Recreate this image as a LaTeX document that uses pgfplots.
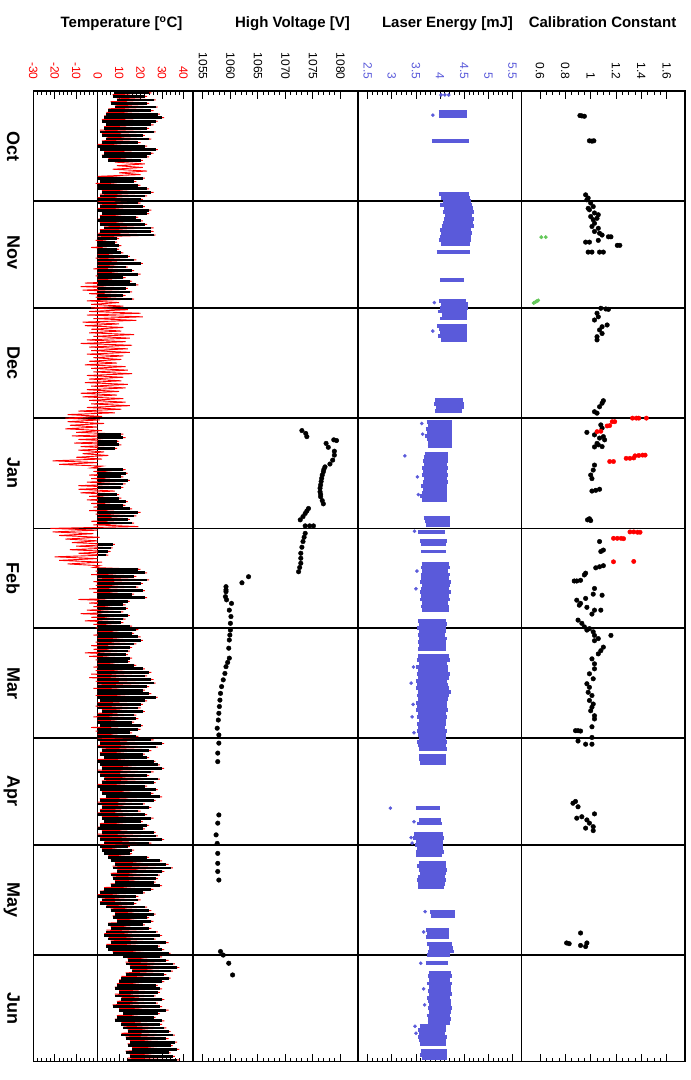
\documentclass[border=0pt]{standalone}
\usepackage{fontspec}
\setmainfont{Liberation Sans}
\usepackage{pgfplots}
\pgfplotsset{compat=1.18}
\definecolor{laserblue}{RGB}{90,90,218}
\definecolor{calgreen}{RGB}{100,200,90}

\pgfplotsset{
  panel/.style={
    scale only axis, height=970.7pt,
    ymin=0, ymax=273, y dir=reverse,
    axis line style={line width=1.5pt},
    tick style={black, line width=0.9pt},
    major tick length=8pt, minor tick length=4pt,
    xticklabel pos=upper,
    xticklabel shift=8pt,
    xticklabel style={rotate=-90, anchor=east, font=\fontsize{12}{12}\selectfont},
    ytick={31,61,92,123,151,182,212,243}, yticklabels={},
    ytick style={draw=none},
    ymajorgrids,
    major grid style={black, line width=1.6pt},
  },
}

\begin{document}
\begin{tikzpicture}
\useasboundingbox (0,0) rectangle (691pt,-1080pt);

\node[anchor=base, font=\fontsize{15}{15}\selectfont\bfseries] at (121.5pt,-27.5pt) {Temperature [\textsuperscript{o}C]};
\node[anchor=base, font=\fontsize{15}{15}\selectfont\bfseries] at (292.5pt,-27.5pt) {High Voltage [V]};
\node[anchor=base, font=\fontsize{15}{15}\selectfont\bfseries] at (447.5pt,-27.5pt) {Laser Energy [mJ]};
\node[anchor=base, font=\fontsize{15}{15}\selectfont\bfseries] at (602.5pt,-27.5pt) {Calibration Constant};

% ---------------- temperature
\begin{axis}[panel, at={(33.3pt,-91pt)}, anchor=north west, width=159.7pt,
  xmin=-30, xmax=44.4,
  xtick={-30,-20,-10,0,10,20,30,40},
  xticklabels={-30,-20,-10,0,10,20,30,40},
  minor x tick num=4,
  xticklabel style={red},
  ymajorgrids=false,
  ytick={15.5,45.5,76.5,107.5,137,166.5,197,227.5,258},
  yticklabels={Oct,Nov,Dec,Jan,Feb,Mar,Apr,May,Jun},
  yticklabel style={rotate=-90, anchor=north, font=\fontsize{18}{18}\selectfont\bfseries},
  yticklabel shift=10pt,
  extra y ticks={31,61,92,123,151,182,212,243}, extra y tick labels={},
  extra y tick style={grid=major},
  extra x ticks={0}, extra x tick labels={},
  extra x tick style={grid=major},
]
\addplot[red, line width=0.9pt, mark=none] coordinates {
(8,0)(25,0.5)(7,1)(23,1.5)(9,2)(27,2.5)(6,3)(24,3.5)(8,4)(28,4.5)(5,5)(26,5.5)(4,6)(29,6.5)(3,7)(31,7.5)(2,8)(28,8.5)(4,9)(26,9.5)
(3,10)(24,10.5)(1,11)(27,11.5)(2,12)(22,12.5)(4,13)(25,13.5)(2,14)(20,14.5)(0,15)(23,15.5)(1,16)(28,16.5)(3,17)(26,17.5)(2,18)(24,18.5)(5,19)(21,19.5)
(8,20)(22,20.5)(9,21)(21,21.5)(7,22)(23,22.5)(10,23)(20,23.5)(0,24)(22,24.5)(1,25)(18,25.5)(-1,26)(20,26.5)(0,27)(24,27.5)(2,28)(26,28.5)(1,29)(23,29.5)
(0,30)(21,30.5)(0,31)(20,31.5)(1,32)(22,32.5)(0,33)(25,33.5)(2,34)(24,34.5)(1,35)(19,35.5)(0,36)(21,36.5)(1,37)(23,37.5)(3,38)(26,38.5)(1,39)(26,39.5)
(0,40)(27,40.5)(0,41)(10,41.5)(-1,42)(9,42.5)(0,43)(11,43.5)(-3,44)(10,44.5)(0,45)(12,45.5)(0,46)(15,46.5)(-1,47)(18,47.5)(0,48)(21,48.5)(0,49)(14,49.5)
(-2,50)(17,50.5)(0,51)(20,51.5)(-1,52)(13,52.5)(0,53)(16,53.5)(-6,54)(19,54.5)(-8,55)(14,55.5)(-7,56)(16,56.5)(-4,57)(13,57.5)(-1,58)(17,58.5)(-5,59)(10,59.5)
(-3,60)(12,60.5)(-3,61)(14,61.5)(-4,62)(20,62.5)(-5,63)(21,63.5)(-2,64)(18,64.5)(-7,65)(10,65.5)(-6,66)(12,66.5)(-3,67)(11,67.5)(-4,68)(17,68.5)(-2,69)(15,69.5)
(-5,70)(13,70.5)(-8,71)(16,71.5)(-4,72)(14,72.5)(-3,73)(15,73.5)(-5,74)(12,74.5)(-2,75)(11,75.5)(-4,76)(9,76.5)(-6,77)(13,77.5)(-3,78)(14,78.5)(-2,79)(16,79.5)
(-5,80)(12,80.5)(-4,81)(11,81.5)(-6,82)(14,82.5)(-3,83)(13,83.5)(-5,84)(10,84.5)(-8,85)(9,85.5)(-7,86)(12,86.5)(-4,87)(13,87.5)(-3,88)(15,88.5)(-5,89)(11,89.5)
(-9,90)(8,90.5)(-14,91)(2,91.5)(-15,92)(1,92.5)(-14,93)(3,93.5)(-13,94)(0,94.5)(-15,95)(2,95.5)(-10,96)(12,96.5)(-12,97)(13,97.5)(-9,98)(10,98.5)(-11,99)(11,99.5)
(-8,100)(9,100.5)(-9,101)(3,101.5)(-7,102)(5,102.5)(-10,103)(2,103.5)(-21,104)(0,104.5)(-18,105)(2,105.5)(-3,106)(13,106.5)(-2,107)(14,107.5)(-4,108)(12,108.5)(-3,109)(15,109.5)
(-5,110)(13,110.5)(-9,111)(12,111.5)(-9,112)(8,112.5)(-8,113)(10,113.5)(-4,114)(11,114.5)(-5,115)(14,115.5)(-3,116)(13,116.5)(-2,117)(16,117.5)(-4,118)(20,118.5)(-1,119)(18,119.5)
(0,120)(15,120.5)(-3,121)(17,121.5)(-2,122)(19,122.5)(-22,123)(0,123.5)(-21,124)(-2,124.5)(-18,125)(1,125.5)(-15,126)(0,126.5)(-12,127)(8,127.5)(-10,128)(7,128.5)(-13,129)(6,129.5)
(-9,130)(5,130.5)(-20,131)(0,131.5)(-18,132)(2,132.5)(-14,133)(1,133.5)(-2,134)(20,134.5)(-1,135)(23,135.5)(-3,136)(18,136.5)(0,137)(24,137.5)(-2,138)(21,138.5)(-1,139)(19,139.5)
(-4,140)(22,140.5)(-2,141)(17,141.5)(0,142)(23,142.5)(-9,143)(15,143.5)(-4,144)(13,144.5)(-2,145)(14,145.5)(-5,146)(12,146.5)(-8,147)(15,147.5)(-3,148)(13,148.5)(-6,149)(12,149.5)
(-2,150)(16,150.5)(-1,151)(19,151.5)(0,152)(17,152.5)(-2,153)(20,153.5)(0,154)(21,154.5)(-1,155)(18,155.5)(-3,156)(16,156.5)(-2,157)(15,157.5)(-6,158)(14,158.5)(-4,159)(16,159.5)
(-1,160)(15,160.5)(0,161)(18,161.5)(-2,162)(22,162.5)(-1,163)(25,163.5)(-3,164)(23,164.5)(-4,165)(26,165.5)(-1,166)(27,166.5)(0,167)(24,167.5)(-2,168)(22,168.5)(0,169)(25,169.5)
(-1,170)(28,170.5)(1,171)(23,171.5)(0,172)(21,172.5)(-1,173)(20,173.5)(2,174)(22,174.5)(0,175)(18,175.5)(-2,176)(19,176.5)(0,177)(17,177.5)(1,178)(21,178.5)(-3,179)(20,179.5)
(-1,180)(16,180.5)(0,181)(19,181.5)(0,182)(26,182.5)(1,183)(31,183.5)(0,184)(28,184.5)(2,185)(25,185.5)(1,186)(22,186.5)(3,187)(24,187.5)(0,188)(27,188.5)(1,189)(29,189.5)
(2,190)(31,190.5)(0,191)(26,191.5)(1,192)(24,192.5)(3,193)(29,193.5)(2,194)(27,194.5)(0,195)(23,195.5)(1,196)(28,196.5)(2,197)(26,197.5)(4,198)(30,198.5)(1,199)(27,199.5)
(0,200)(22,200.5)(2,201)(25,201.5)(1,202)(20,202.5)(0,203)(23,203.5)(2,204)(26,204.5)(3,205)(21,205.5)(1,206)(24,206.5)(0,207)(22,207.5)(2,208)(27,208.5)(0,209)(28,209.5)
(1,210)(31,210.5)(3,211)(25,211.5)(1,212)(15,212.5)(2,213)(17,213.5)(3,214)(16,214.5)(5,215)(24,215.5)(6,216)(30,216.5)(8,217)(33,217.5)(7,218)(35,218.5)(9,219)(31,219.5)
(6,220)(29,220.5)(7,221)(28,221.5)(8,222)(27,222.5)(6,223)(30,223.5)(3,224)(26,224.5)(1,225)(22,225.5)(0,226)(19,226.5)(2,227)(20,227.5)(1,228)(18,228.5)(4,229)(23,229.5)
(6,230)(25,230.5)(8,231)(27,231.5)(7,232)(24,232.5)(9,233)(26,233.5)(5,234)(22,234.5)(6,235)(25,235.5)(4,236)(28,236.5)(3,237)(30,237.5)(5,238)(27,238.5)(6,239)(33,239.5)
(4,240)(29,240.5)(5,241)(31,241.5)(7,242)(34,242.5)(12,243)(30,243.5)(14,244)(33,244.5)(13,245)(36,245.5)(15,246)(38,246.5)(16,247)(35,247.5)(13,248)(32,248.5)(11,249)(34,249.5)
(10,250)(31,250.5)(9,251)(28,251.5)(8,252)(30,252.5)(10,253)(29,253.5)(8,254)(27,254.5)(11,255)(31,255.5)(9,256)(28,256.5)(7,257)(30,257.5)(10,258)(33,258.5)(12,259)(29,259.5)
(9,260)(27,260.5)(8,261)(31,261.5)(11,262)(30,262.5)(12,263)(32,263.5)(14,264)(34,264.5)(11,265)(36,265.5)(13,266)(33,266.5)(15,267)(37,267.5)(14,268)(35,268.5)(16,269)(38,269.5)
(13,270)(34,270.5)(15,271)(36,271.5)(14,272)(38,272.5)
};
% black: measured temperatures, daily range (start, length)
\addplot[draw=none, mark=none,
  /pgfplots/error bars/x dir=plus, /pgfplots/error bars/x explicit,
  /pgfplots/error bars/error mark=none,
  /pgfplots/error bars/error bar style={draw=black, line width=2.8pt}]
coordinates {
(8,0.5) +- (16,0) (7,1.5) +- (15,0) (9,2.5) +- (17,0) (6,3.5) +- (17,0) (8,4.5) +- (19,0)
(5,5.5) +- (20,0) (4,6.5) +- (24,0) (3,7.5) +- (27,0) (2,8.5) +- (25,0) (4,9.5) +- (21,0)
(3,10.5) +- (20,0) (1,11.5) +- (25,0) (2,12.5) +- (19,0) (4,13.5) +- (20,0) (2,14.5) +- (17,0)
(0,15.5) +- (22,0) (1,16.5) +- (26,0) (3,17.5) +- (22,0) (2,18.5) +- (21,0) (5,19.5) +- (15,0)
(0,24.5) +- (21,0) (1,25.5) +- (16,0) (0,26.5) +- (19,0) (0,27.5) +- (23,0) (2,28.5) +- (23,0)
(1,29.5) +- (21,0) (0,30.5) +- (20,0) (0,31.5) +- (19,0) (1,32.5) +- (20,0) (0,33.5) +- (24,0)
(2,34.5) +- (21,0) (1,35.5) +- (17,0) (0,36.5) +- (20,0) (1,37.5) +- (21,0) (3,38.5) +- (22,0)
(1,39.5) +- (24,0) (0,40.5) +- (26,0) (0,41.5) +- (9,0) (0,42.5) +- (8,0) (0,43.5) +- (10,0)
(0,44.5) +- (9,0) (0,45.5) +- (11,0) (0,46.5) +- (14,0) (0,47.5) +- (17,0) (0,48.5) +- (20,0)
(0,49.5) +- (13,0) (0,50.5) +- (16,0) (0,51.5) +- (19,0) (0,52.5) +- (12,0) (0,53.5) +- (15,0)
(0,54.5) +- (18,0) (0,55.5) +- (13,0) (0,56.5) +- (15,0) (0,57.5) +- (12,0) (0,58.5) +- (16,0)
(0,96.5) +- (11,0) (0,97.5) +- (12,0) (0,98.5) +- (9,0) (0,99.5) +- (10,0) (0,100.5) +- (8,0)
(0,106.5) +- (12,0) (0,107.5) +- (13,0) (0,108.5) +- (11,0) (0,109.5) +- (14,0) (0,110.5) +- (12,0) (0,111.5) +- (11,0)
(0,113.5) +- (9,0) (0,114.5) +- (10,0) (0,115.5) +- (13,0) (0,116.5) +- (12,0) (0,117.5) +- (15,0)
(0,118.5) +- (19,0) (0,119.5) +- (17,0) (0,120.5) +- (14,0) (0,121.5) +- (16,0)
(0,127.5) +- (7,0) (0,128.5) +- (6,0) (0,129.5) +- (5,0) (0,130.5) +- (4,0)
(0,134.5) +- (19,0) (0,135.5) +- (22,0) (0,136.5) +- (17,0) (0,137.5) +- (23,0) (0,138.5) +- (20,0)
(0,139.5) +- (18,0) (0,140.5) +- (21,0) (0,141.5) +- (16,0) (0,142.5) +- (22,0) (0,143.5) +- (14,0)
(0,144.5) +- (12,0) (0,145.5) +- (13,0) (0,146.5) +- (11,0) (0,147.5) +- (14,0) (0,148.5) +- (12,0)
(0,149.5) +- (11,0) (0,150.5) +- (15,0)
(0,151.5) +- (18,0) (0,152.5) +- (16,0) (0,153.5) +- (19,0) (0,154.5) +- (20,0) (0,155.5) +- (17,0)
(0,156.5) +- (15,0) (0,157.5) +- (14,0) (0,158.5) +- (13,0) (0,159.5) +- (15,0) (0,160.5) +- (14,0)
(0,161.5) +- (17,0) (0,162.5) +- (21,0) (0,163.5) +- (24,0) (0,164.5) +- (22,0) (0,165.5) +- (25,0)
(0,166.5) +- (26,0) (0,167.5) +- (23,0) (0,168.5) +- (21,0) (0,169.5) +- (24,0) (0,170.5) +- (27,0)
(1,171.5) +- (21,0) (0,172.5) +- (20,0) (0,173.5) +- (19,0) (2,174.5) +- (19,0) (0,175.5) +- (17,0)
(0,176.5) +- (18,0) (0,177.5) +- (16,0) (1,178.5) +- (19,0) (0,179.5) +- (19,0) (0,180.5) +- (15,0)
(0,181.5) +- (18,0)
(0,182.5) +- (25,0) (1,183.5) +- (29,0) (0,184.5) +- (27,0) (2,185.5) +- (22,0) (1,186.5) +- (20,0)
(3,187.5) +- (20,0) (0,188.5) +- (26,0) (1,189.5) +- (27,0) (2,190.5) +- (28,0) (0,191.5) +- (25,0)
(1,192.5) +- (22,0) (3,193.5) +- (25,0) (2,194.5) +- (24,0) (0,195.5) +- (22,0) (1,196.5) +- (26,0)
(2,197.5) +- (23,0) (4,198.5) +- (25,0) (1,199.5) +- (25,0) (0,200.5) +- (21,0) (2,201.5) +- (22,0)
(1,202.5) +- (18,0) (0,203.5) +- (22,0) (2,204.5) +- (23,0) (3,205.5) +- (17,0) (1,206.5) +- (22,0)
(0,207.5) +- (21,0) (2,208.5) +- (24,0) (0,209.5) +- (27,0) (1,210.5) +- (29,0) (3,211.5) +- (21,0)
(1,212.5) +- (13,0) (2,213.5) +- (14,0) (3,214.5) +- (12,0) (5,215.5) +- (18,0) (6,216.5) +- (23,0)
(8,217.5) +- (24,0) (7,218.5) +- (27,0) (9,219.5) +- (21,0) (6,220.5) +- (22,0) (7,221.5) +- (20,0)
(8,222.5) +- (18,0) (6,223.5) +- (23,0) (3,224.5) +- (22,0) (1,225.5) +- (20,0) (0,226.5) +- (18,0)
(2,227.5) +- (17,0) (1,228.5) +- (16,0) (4,229.5) +- (18,0) (6,230.5) +- (18,0) (8,231.5) +- (18,0)
(7,232.5) +- (16,0) (9,233.5) +- (16,0) (5,234.5) +- (16,0) (6,235.5) +- (18,0) (4,236.5) +- (23,0)
(3,237.5) +- (26,0) (5,238.5) +- (21,0) (6,239.5) +- (26,0) (4,240.5) +- (24,0) (5,241.5) +- (25,0)
(7,242.5) +- (26,0)
(12,243.5) +- (17,0) (14,244.5) +- (18,0) (13,245.5) +- (22,0) (15,246.5) +- (22,0) (16,247.5) +- (18,0)
(13,248.5) +- (18,0) (11,249.5) +- (22,0) (10,250.5) +- (20,0) (9,251.5) +- (18,0) (8,252.5) +- (21,0)
(10,253.5) +- (18,0) (8,254.5) +- (18,0) (11,255.5) +- (19,0) (9,256.5) +- (18,0) (7,257.5) +- (22,0)
(10,258.5) +- (22,0) (12,259.5) +- (16,0) (9,260.5) +- (17,0) (8,261.5) +- (22,0) (11,262.5) +- (18,0)
(12,263.5) +- (19,0) (14,264.5) +- (19,0) (11,265.5) +- (24,0) (13,266.5) +- (19,0) (15,267.5) +- (21,0)
(14,268.5) +- (20,0) (16,269.5) +- (21,0) (13,270.5) +- (20,0) (15,271.5) +- (20,0) (14,272.5) +- (23,0)
};
\end{axis}

% ---------------- high voltage
\begin{axis}[panel, at={(193pt,-91pt)}, anchor=north west, width=165pt,
  xmin=1053.2, xmax=1083.2,
  xtick={1055,1060,1065,1070,1075,1080},
  xticklabels={1055,1060,1065,1070,1075,1080},
  minor x tick num=4,
]
\addplot[only marks, black, mark=*, mark size=2.3pt] coordinates {
(1073.0,95.5)(1073.7,96.3)(1073.9,97.2)(1078.8,98.1)(1079.3,98.3)(1077.4,99.1)(1077.8,100.2)
(1078.9,101.3)(1078.9,102.4)(1078.6,103.8)(1078.1,104.9)(1077.2,105.7)(1077.0,106.4)(1076.9,107.1)
(1076.7,108.0)(1076.6,108.9)(1076.5,109.8)(1076.4,110.8)(1076.3,111.7)(1076.3,112.7)(1076.4,113.4)
(1076.4,114.1)(1076.7,115.2)(1076.9,116.1)
(1074.2,117.4)(1073.9,118.1)(1073.6,118.8)(1073.2,119.7)(1072.7,120.6)(1073.6,122.3)(1074.4,122.3)
(1075.1,122.3)(1073.6,124.4)(1073.4,125.5)(1073.2,126.7)(1073.0,128.3)(1072.8,130.0)(1072.8,131.4)
(1072.8,132.8)(1072.6,134.0)(1072.4,135.2)
(1063.3,136.6)(1062.1,138.3)(1059.2,139.4)(1059.2,140.3)(1059.2,140.8)(1059.1,142.2)(1059.3,143.1)
(1060.2,144.1)(1059.8,146.0)(1060.1,147.8)(1060.0,149.7)(1060.0,151.6)(1059.9,153.0)(1059.8,154.4)
(1059.7,156.7)(1059.8,159.5)(1059.5,160.7)(1059.2,161.9)(1059.0,163.8)(1058.7,165.6)(1058.4,167.5)
(1058.2,169.4)(1058.1,171.3)(1058.0,173.1)(1057.9,175.0)(1057.8,176.9)(1057.6,179.2)(1057.9,181.1)
(1057.9,183.4)(1057.7,186.2)(1057.7,188.6)
(1057.9,203.6)(1057.7,205.9)(1057.4,209.2)(1057.6,211.6)(1057.7,214.4)(1057.7,217.2)(1057.7,219.5)
(1057.9,221.9)
(1058.2,242.0)(1058.7,243.0)(1059.7,245.3)(1060.4,248.6)
};
\end{axis}

% ---------------- laser energy
\begin{axis}[panel, at={(358pt,-91pt)}, anchor=north west, width=163.7pt,
  xmin=2.3, xmax=5.69,
  xtick={2.5,3,3.5,4,4.5,5,5.5},
  xticklabels={2.5,3,3.5,4,4.5,5,5.5},
  minor x tick num=4,
  xticklabel style={laserblue},
]
\addplot[draw=none, mark=none,
  /pgfplots/error bars/x dir=plus, /pgfplots/error bars/x explicit,
  /pgfplots/error bars/error mark=none,
  /pgfplots/error bars/error bar style={draw=laserblue, line width=3.8pt}]
coordinates {
(3.97,6) +- (0.58,0) (3.97,7) +- (0.58,0) (3.83,14) +- (0.76,0)
(3.98,29) +- (0.62,0) (4.02,30) +- (0.60,0) (4.05,31) +- (0.59,0) (4.00,32) +- (0.66,0)
(4.08,33) +- (0.60,0) (4.06,34) +- (0.64,0) (4.10,35) +- (0.56,0) (4.08,36) +- (0.63,0)
(4.05,37) +- (0.63,0) (4.03,38) +- (0.67,0) (4.00,39) +- (0.64,0) (4.02,40) +- (0.64,0)
(4.00,41) +- (0.65,0) (3.97,42) +- (0.66,0) (4.02,43) +- (0.60,0)
(3.93,45.2) +- (0.69,0) (4.00,53.1) +- (0.50,0)
(3.98,59) +- (0.56,0) (4.02,60) +- (0.55,0) (4.00,61) +- (0.58,0) (3.95,62) +- (0.60,0)
(4.03,63) +- (0.52,0) (4.00,64) +- (0.55,0)
(3.94,66) +- (0.62,0) (3.97,67) +- (0.58,0) (4.00,68) +- (0.55,0) (3.96,69) +- (0.60,0) (4.02,70) +- (0.54,0)
(3.90,87) +- (0.58,0) (3.88,88) +- (0.62,0) (3.92,89) +- (0.58,0) (3.90,90) +- (0.55,0)
(3.72,93) +- (0.52,0) (3.75,94) +- (0.50,0) (3.70,95) +- (0.55,0) (3.73,96) +- (0.52,0)
(3.68,97) +- (0.56,0) (3.72,98) +- (0.53,0) (3.75,99) +- (0.50,0) (3.74,100) +- (0.50,0)
(3.68,102) +- (0.48,0) (3.66,103) +- (0.50,0) (3.64,104) +- (0.52,0) (3.67,105) +- (0.48,0)
(3.63,106) +- (0.53,0) (3.65,107) +- (0.50,0) (3.62,108) +- (0.54,0) (3.66,109) +- (0.49,0)
(3.64,110) +- (0.52,0) (3.60,111) +- (0.55,0) (3.65,112) +- (0.50,0) (3.63,113) +- (0.52,0)
(3.58,114) +- (0.56,0) (3.62,115) +- (0.52,0)
(3.66,120) +- (0.54,0) (3.68,121) +- (0.52,0) (3.70,122) +- (0.50,0)
(3.55,124) +- (0.55,0) (3.59,126.5) +- (0.55,0) (3.60,127.5) +- (0.52,0) (3.60,129.5) +- (0.52,0)
(3.62,133) +- (0.56,0) (3.60,134) +- (0.60,0) (3.63,135) +- (0.54,0) (3.60,136) +- (0.61,0)
(3.61,137) +- (0.58,0) (3.58,138) +- (0.64,0) (3.62,139) +- (0.58,0) (3.60,140) +- (0.58,0)
(3.59,141) +- (0.63,0) (3.61,142) +- (0.58,0) (3.58,143) +- (0.62,0) (3.62,144) +- (0.55,0)
(3.60,145) +- (0.59,0) (3.63,146) +- (0.55,0)
(3.55,149) +- (0.57,0) (3.56,150) +- (0.58,0) (3.53,151) +- (0.59,0) (3.57,152) +- (0.56,0)
(3.55,153) +- (0.56,0) (3.56,154) +- (0.58,0) (3.54,155) +- (0.58,0) (3.57,156) +- (0.56,0)
(3.55,157) +- (0.57,0)
(3.55,159) +- (0.63,0) (3.52,160) +- (0.68,0) (3.56,161) +- (0.59,0) (3.50,162) +- (0.67,0)
(3.54,163) +- (0.62,0) (3.52,164) +- (0.69,0) (3.55,165) +- (0.63,0) (3.50,166) +- (0.65,0)
(3.53,167) +- (0.64,0) (3.51,168) +- (0.68,0) (3.55,169) +- (0.68,0) (3.52,170) +- (0.66,0)
(3.54,171) +- (0.62,0) (3.50,172) +- (0.65,0) (3.53,173) +- (0.61,0) (3.51,174) +- (0.65,0)
(3.55,175) +- (0.58,0) (3.52,176) +- (0.62,0) (3.56,177) +- (0.56,0) (3.53,178) +- (0.60,0)
(3.55,179) +- (0.56,0) (3.52,180) +- (0.62,0) (3.54,181) +- (0.58,0) (3.56,182) +- (0.57,0)
(3.53,183) +- (0.61,0) (3.55,184) +- (0.57,0) (3.56,185) +- (0.58,0)
(3.57,187) +- (0.55,0) (3.56,188) +- (0.56,0) (3.58,189) +- (0.54,0)
(3.50,201.7) +- (0.50,0) (3.56,205) +- (0.46,0) (3.53,206) +- (0.50,0)
(3.46,209) +- (0.59,0) (3.44,210) +- (0.64,0) (3.50,211) +- (0.56,0) (3.48,212) +- (0.59,0)
(3.52,213) +- (0.53,0) (3.50,214) +- (0.58,0) (3.51,215) +- (0.53,0)
(3.56,217) +- (0.56,0) (3.53,218) +- (0.60,0) (3.56,219) +- (0.58,0) (3.58,220) +- (0.54,0)
(3.55,221) +- (0.55,0) (3.52,222) +- (0.61,0) (3.54,223) +- (0.57,0) (3.55,224) +- (0.53,0)
(3.79,231) +- (0.52,0) (3.82,232) +- (0.48,0)
(3.71,236) +- (0.47,0) (3.73,237) +- (0.46,0) (3.70,238) +- (0.49,0)
(3.72,240) +- (0.52,0) (3.76,241) +- (0.50,0) (3.74,242) +- (0.55,0) (3.73,243) +- (0.48,0)
(3.70,245.3) +- (0.46,0)
(3.78,248) +- (0.44,0) (3.75,249) +- (0.49,0) (3.77,250) +- (0.44,0) (3.72,251) +- (0.53,0)
(3.76,252) +- (0.47,0) (3.74,253) +- (0.48,0) (3.77,254) +- (0.47,0) (3.73,255) +- (0.48,0)
(3.75,256) +- (0.48,0) (3.78,257) +- (0.44,0) (3.74,258) +- (0.51,0) (3.76,259) +- (0.46,0)
(3.72,260) +- (0.49,0) (3.75,261) +- (0.48,0) (3.74,262) +- (0.46,0)
(3.58,263) +- (0.54,0) (3.55,264) +- (0.58,0) (3.57,265) +- (0.54,0) (3.54,266) +- (0.60,0)
(3.56,267) +- (0.56,0) (3.58,268) +- (0.55,0)
(3.60,270) +- (0.55,0) (3.58,271) +- (0.57,0) (3.62,272) +- (0.52,0)
};
\addplot[only marks, laserblue, mark=*, mark size=1.6pt] coordinates {
(4.02,1.1)(4.10,1.1)(4.18,1.1)(3.85,6.8)(3.88,59.5)(3.85,67.5)(3.62,93.5)(3.64,96.5)(3.27,102.6)
(3.53,108.5)(3.55,113.5)(3.47,123.8)(3.52,135)(3.50,140)(3.45,162)(3.40,166.5)(3.44,172.5)
(3.42,176)(3.46,180.5)(2.97,201.7)(3.46,205.5)(3.40,210)(3.42,211.5)(3.69,230.8)(3.66,236.5)
(3.60,245.3)(3.66,252.5)(3.68,257)(3.48,263)(3.50,265)
};
\end{axis}

% ---------------- calibration constant
\begin{axis}[panel, at={(521.7pt,-91pt)}, anchor=north west, width=163.3pt,
  xmin=0.455, xmax=1.745,
  xtick={0.6,0.8,1,1.2,1.4,1.6},
  xticklabels={0.6,0.8,1,1.2,1.4,1.6},
  minor x tick num=3,
]
\addplot[only marks, black, mark=*, mark size=2.3pt] coordinates {
(0.915,6.9)(0.93,7.0)(0.95,7.1)(0.99,14)(1.01,14.1)(1.025,14)
(0.96,29.2)(0.98,30.1)(0.97,30.6)(1.00,31.5)(1.02,32.5)(0.98,33.0)(0.99,33.4)(1.03,34.3)(1.06,34.8)
(1.00,35.3)(1.05,35.8)(1.02,36.2)(1.03,37.2)(1.01,38.1)(1.06,38.6)(1.03,39.5)(1.07,40.0)(1.09,40.5)
(1.14,41.0)(1.16,41.0)(1.06,42.0)(0.96,42.5)(0.99,42.5)(1.23,43.4)(1.21,43.4)(0.98,45.3)(1.01,45.3)
(1.07,45.3)(1.10,45.3)
(1.08,61.1)(1.14,61.4)(1.12,61.3)(1.05,62.5)(1.06,63.5)(1.03,64.4)(1.13,65.8)(1.09,66.3)(1.07,67.2)
(1.09,68.2)(1.05,69.1)(1.05,70.0)
(1.10,87.1)(1.09,87.8)(1.07,88.8)(1.03,90.2)(1.05,90.6)
(1.08,93.9)(1.09,94.8)(0.97,96.0)(1.03,96.7)(1.10,97.2)(1.07,97.6)(1.11,98.1)(1.05,99.1)(1.09,100.0)
(1.03,100.1)(1.06,99.5)
(1.03,105.2)(1.02,106.6)(1.00,108.0)(1.01,109.0)
(1.01,112.5)(1.04,112.3)(1.07,112.0)
(0.975,120.6)(0.99,120.3)(1.00,120.8)
(1.07,126.7)(1.10,129.1)(1.08,129.5)(1.04,134.1)(1.07,133.8)(1.10,133.5)
(0.96,135.6)(0.95,136.1)(0.87,137.8)(0.89,137.8)(0.92,137.6)
(1.03,139.9)(1.02,141.5)(1.09,141.8)(0.96,142.7)(0.89,143.2)(0.92,144.1)(0.91,144.6)(0.97,145.2)
(1.03,146.0)(1.08,146.0)(1.01,147.1)
(0.90,148.8)(0.93,149.7)(0.95,150.7)(0.99,151.2)(0.97,151.6)(1.02,152.1)(1.03,153.1)(1.16,153.1)
(1.06,154.0)(1.03,154.6)
(1.10,156.4)(1.08,157.4)(1.06,158.3)(1.01,159.7)(1.03,161.1)(1.03,162.5)(0.99,163.9)(1.02,165.3)
(0.97,166.7)(0.99,167.7)(0.98,169.1)(1.01,170.0)(0.99,171.4)(1.02,172.4)(1.01,173.3)(1.00,174.3)
(1.03,175.7)(1.03,176.6)
(1.01,178.8)(0.88,179.9)(0.90,179.9)(0.92,180.0)(1.01,181.8)(0.90,182.8)(0.96,183.7)(1.01,183.7)
(0.88,199.8)(0.86,200.3)(0.90,201.3)(1.03,203.3)(0.93,204.1)(0.89,204.5)(0.97,205.0)(0.99,205.9)
(1.02,206.9)(0.96,207.3)(1.02,208.0)
(0.92,236.8)(0.81,239.6)(0.83,239.8)(0.97,239.6)(0.92,240.3)(0.96,240.6)
};
\addplot[only marks, red, mark=*, mark size=2.2pt] coordinates {
(1.33,92)(1.36,92)(1.38,92)(1.44,92)(1.17,93)(1.19,93)(1.13,94.2)(1.15,94.1)(1.05,95.8)(1.08,95.7)
(1.35,102.6)(1.38,102.5)(1.41,102.4)(1.43,102.4)(1.28,103.3)(1.31,103.3)(1.34,103.2)(1.15,104.2)
(1.18,104.2)(1.31,124)(1.34,124)(1.37,124.1)(1.39,124.1)(1.18,125.8)(1.21,125.8)(1.24,125.8)
(1.26,125.9)(1.18,132.4)(1.34,132.3)
};
\addplot[only marks, calgreen, mark=*, mark size=1.8pt] coordinates {
(0.61,41.1)(0.645,41.1)(0.55,59.6)(0.565,59.3)(0.585,58.9)(0.575,59.1)
};
\end{axis}
\end{tikzpicture}
\end{document}
